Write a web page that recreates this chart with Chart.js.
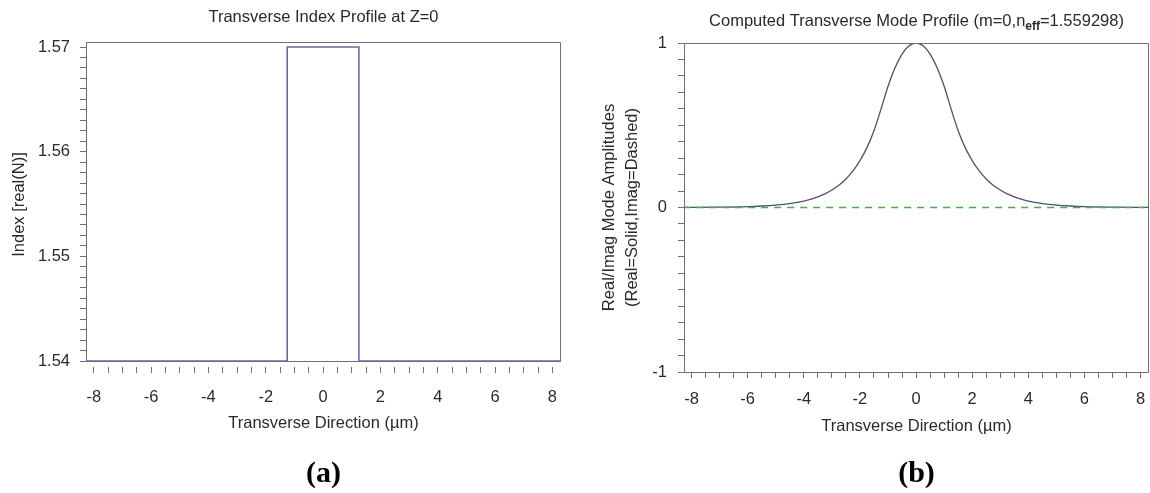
<!DOCTYPE html>
<html>
<head>
<meta charset="utf-8">
<script src="https://cdn.jsdelivr.net/npm/chart.js@4.4.1/dist/chart.umd.min.js"></script>
<style>
  body { margin: 0; background: #fff; }
  canvas { position: absolute; top: 0; }
  #chartA { left: 0; }
  #chartB { left: 575px; }
</style>
</head>
<body>
<canvas id="chartA" width="575" height="493"></canvas>
<canvas id="chartB" width="575" height="493"></canvas>
<script>
// (a) index profile, step edges
const indexX = [-8.27, -1.25, -1.25, 1.25, 1.25, 8.3]
const indexN = [1.54, 1.54, 1.57, 1.57, 1.54, 1.54]

// (b) real part of mode amplitude
const modeX = [-8.3, -7, -6, -5.5, -5, -4.5, -4, -3.5, -3.25, -3, -2.75, -2.5, -2.25, -2, -1.75, -1.5, -1.25, -1, -0.75, -0.5, -0.25,
  0, 0.25, 0.5, 0.75, 1, 1.25, 1.5, 1.75, 2, 2.25, 2.5, 2.75, 3, 3.25, 3.5, 4, 4.5, 5, 5.5, 6, 7, 8.3]
const modeRe = [0.001, 0.002, 0.005, 0.009, 0.015, 0.024, 0.039, 0.065, 0.083, 0.106, 0.135, 0.173, 0.222, 0.285, 0.364, 0.467, 0.598, 0.737, 0.849, 0.932, 0.983,
  1, 0.983, 0.932, 0.849, 0.737, 0.598, 0.467, 0.364, 0.285, 0.222, 0.173, 0.135, 0.106, 0.083, 0.065, 0.039, 0.024, 0.015, 0.009, 0.005, 0.002, 0.001]
// imaginary part (dashed)
const imX = [-8.3, 8.3]
const imVal = [0, 0]

const FONT = 'Liberation Sans, Arial, sans-serif'
const FS = 16.5
const frameColor = '#707070'
const textColor = '#2a2a2a'

function pts(xs, ys) {
  return xs.map((x, i) => ({ x: x, y: ys[i] }))
}

// frame, titles and panel letters
const decor = {
  id: 'decor',
  afterDraw(chart, args, opts) {
    const { ctx, chartArea: a, scales } = chart
    ctx.save()
    ctx.strokeStyle = frameColor
    ctx.lineWidth = 1
    const bottom = opts.frameBottom !== undefined ? Math.round(scales.y.getPixelForValue(opts.frameBottom)) + 0.5 : a.bottom + 0.5
    ctx.beginPath()
    ctx.moveTo(a.left + 0.5, bottom)
    ctx.lineTo(a.left + 0.5, a.top + 0.5)
    ctx.lineTo(a.right - 0.5, a.top + 0.5)
    ctx.lineTo(a.right - 0.5, bottom)
    ctx.lineTo(a.left + 0.5, bottom)
    ctx.stroke()

    const cx = (a.left + a.right) / 2
    ctx.fillStyle = textColor
    ctx.textBaseline = 'middle'
    const parts = opts.title
    const fontOf = (p) => (p.sub ? 'bold 12px ' : FS + 'px ') + FONT
    let w = 0
    parts.forEach((p) => {
      ctx.font = fontOf(p)
      w += ctx.measureText(p.t).width
    })
    let x = cx - w / 2
    ctx.textAlign = 'left'
    parts.forEach((p) => {
      ctx.font = fontOf(p)
      ctx.fillText(p.t, x, opts.titleY + (p.sub ? 6 : 0))
      x += ctx.measureText(p.t).width
    })

    ctx.textAlign = 'center'
    ctx.font = 'bold 30px Liberation Serif, Times New Roman, serif'
    ctx.fillStyle = '#000'
    ctx.fillText(opts.letter, cx, 474)
    ctx.restore()
  }
}

function xAxis(height, tickPad, titlePad) {
  return {
    type: 'linear',
    min: -8.27,
    max: 8.3,
    afterFit: (s) => {
      s.height = height
      s.paddingLeft = 0
      s.paddingRight = 0
    },
    border: { display: false },
    grid: { drawOnChartArea: false, drawTicks: true, tickLength: 6, tickColor: frameColor },
    ticks: {
      stepSize: 0.5,
      includeBounds: false,
      autoSkip: false,
      maxRotation: 0,
      padding: tickPad,
      color: textColor,
      font: { family: FONT, size: FS },
      callback: (v) => (Math.abs(v / 2 - Math.round(v / 2)) < 1e-6 ? String(Math.round(v)) : '')
    },
    title: {
      display: true,
      text: 'Transverse Direction (\u00b5m)',
      color: textColor,
      font: { family: FONT, size: FS },
      padding: { top: 0, bottom: titlePad }
    }
  }
}

new Chart(document.getElementById('chartA'), {
  type: 'line',
  data: {
    datasets: [{
      data: pts(indexX, indexN),
      borderColor: '#6464a8',
      borderWidth: 1.5,
      pointRadius: 0,
      tension: 0
    }]
  },
  options: {
    responsive: false,
    animation: false,
    devicePixelRatio: 1,
    layout: { padding: { top: 42, right: 14, left: 0, bottom: 0 } },
    plugins: {
      legend: { display: false },
      tooltip: { enabled: false },
      decor: {
        title: [{ t: 'Transverse Index Profile at Z=0' }],
        titleY: 17,
        letter: '(a)',
        frameBottom: 1.54
      }
    },
    scales: {
      x: xAxis(126, 15, 60),
      y: {
        type: 'linear',
        min: 1.53943,
        max: 1.57048,
        afterFit: (s) => { s.width = 86 },
        border: { display: false },
        grid: { drawOnChartArea: false, tickLength: 6, tickColor: frameColor },
        ticks: {
          stepSize: 0.001,
          includeBounds: false,
          autoSkip: false,
          padding: 10,
          color: textColor,
          font: { family: FONT, size: FS },
          callback: (v) => (Math.abs(v * 100 - Math.round(v * 100)) < 1e-6 ? v.toFixed(2) : '')
        },
        title: {
          display: true,
          text: 'Index [real(N)]',
          color: textColor,
          font: { family: FONT, size: FS },
          padding: { top: 10, bottom: 0 }
        }
      }
    }
  },
  plugins: [decor]
})

new Chart(document.getElementById('chartB'), {
  type: 'line',
  data: {
    datasets: [
      {
        data: pts(modeX, modeRe),
        borderColor: '#50506a',
        borderWidth: 1.3,
        pointRadius: 0,
        cubicInterpolationMode: 'monotone',
        order: 2
      },
      {
        data: pts(imX, imVal),
        borderColor: '#2fc02f',
        borderWidth: 1.4,
        borderDash: [7, 6],
        pointRadius: 0,
        order: 1
      }
    ]
  },
  options: {
    responsive: false,
    animation: false,
    devicePixelRatio: 1,
    layout: { padding: { top: 43, right: 1, left: 0, bottom: 0 } },
    plugins: {
      legend: { display: false },
      tooltip: { enabled: false },
      decor: {
        title: [{ t: 'Computed Transverse Mode Profile (m=0,n' }, { t: 'eff', sub: true }, { t: '=1.559298)' }],
        titleY: 21,
        letter: '(b)'
      }
    },
    scales: {
      x: xAxis(121, 12, 57),
      y: {
        type: 'linear',
        min: -1,
        max: 1,
        afterFit: (s) => { s.width = 109 },
        border: { display: false },
        grid: { drawOnChartArea: false, tickLength: 6, tickColor: frameColor },
        ticks: {
          stepSize: 0.1,
          includeBounds: false,
          autoSkip: false,
          padding: 11,
          color: textColor,
          font: { family: FONT, size: FS },
          callback: (v) => (Math.abs(v - Math.round(v)) < 1e-6 ? String(Math.round(v)) : '')
        },
        title: {
          display: true,
          text: ['Real/Imag Mode Amplitudes', '(Real=Solid,Imag=Dashed)'],
          color: textColor,
          font: { family: FONT, size: FS, lineHeight: 1.45 },
          padding: { top: 22, bottom: 0 }
        }
      }
    }
  },
  plugins: [decor]
})
</script>
</body>
</html>
